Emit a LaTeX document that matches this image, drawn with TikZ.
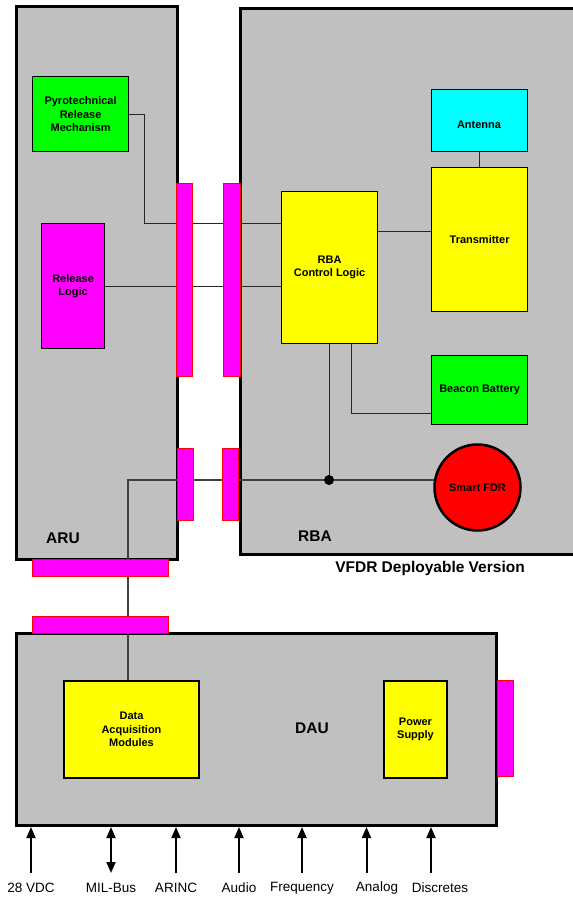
\documentclass[tikz,border=0pt]{standalone}
\usepackage{fontspec}
\setmainfont{Liberation Sans}
\usetikzlibrary{arrows.meta}
\definecolor{boxgray}{HTML}{C0C0C0}
\definecolor{pgreen}{HTML}{00FF00}
\definecolor{pcyan}{HTML}{00FFFF}
\definecolor{pyellow}{HTML}{FFFF00}
\definecolor{pmagenta}{HTML}{FF00FF}
\definecolor{pred}{HTML}{FF0000}
\begin{document}
\begin{tikzpicture}[x=1pt,y=-1pt,
  unit/.style={draw=black, line width=3pt, fill=boxgray, anchor=north west, inner sep=0pt},
  blk/.style={draw=black, line width=1.2pt, anchor=north west, inner sep=0pt, align=center,
    font=\bfseries\fontsize{11}{13.5}\selectfont},
  blktext/.style={inner sep=0pt, align=center, font=\bfseries\fontsize{11}{13.5}\selectfont},
  conn/.style={draw=pred, fill=pmagenta, line width=0.8pt, anchor=north west, inner sep=0pt},
  wire/.style={draw=black!85, line width=1pt},
  big/.style={font=\bfseries\fontsize{15.5}{18}\selectfont},
  sig/.style={font=\fontsize{13.5}{16}\selectfont},
  inarrow/.style={line width=2pt, -{Triangle[width=9pt,length=11pt]}},
  bothway/.style={line width=2pt, {Triangle[width=9pt,length=11pt]}-{Triangle[width=9pt,length=11pt]}},
]
\clip (0,0) rectangle (573,897);
\fill[white] (0,0) rectangle (573,897);

% units
\node[unit, minimum width=161pt, minimum height=553pt] (aru) at (15,5) {};
\node[unit, minimum width=345pt, minimum height=546pt] (rba) at (239,7) {};
\node[unit, minimum width=480pt, minimum height=192pt] (dau) at (15,632) {};

% inner blocks
\node[blk, fill=pgreen, minimum width=96pt, minimum height=75pt] (pyro) at (32,76) {Pyrotechnical\\Release\\Mechanism};
\node[blk, fill=pmagenta, minimum width=63pt, minimum height=125pt] (rl) at (41,223) {Release\\Logic};
\node[blk, fill=pyellow, minimum width=96pt, minimum height=152pt] (ctrl) at (281,191) {RBA\\Control Logic};
\node[blk, fill=pcyan, minimum width=96pt, minimum height=62pt] (ant) at (431,89) {};
\node[blktext] (antlbl) at (479,125) {Antenna};
\node[blk, fill=pyellow, minimum width=96pt, minimum height=144pt] (tx) at (431,167) {Transmitter};
\node[blk, fill=pgreen, minimum width=96pt, minimum height=69pt] (beacon) at (431,355) {Beacon Battery};
\node[blk, line width=2pt, fill=pyellow, minimum width=135pt, minimum height=97pt] (daq) at (63,680) {Data\\Acquisition\\Modules};
\node[blk, line width=2pt, fill=pyellow, minimum width=63pt, minimum height=97pt] (psu) at (383,680) {Power\\Supply};

% wires
\coordinate (j1) at (144,223);
\coordinate (j2) at (0,231);
\coordinate (j3) at (351,413);
\coordinate (dot) at (329,480);
\coordinate (j4) at (128,480);
\draw[wire] (pyro.east) -| (j1) -- (ctrl.west |- j1);
\draw[wire] (rl.east) -- (ctrl.west |- rl.east);
\draw[wire] (ctrl.east |- j2) -- (tx.west |- j2);
\draw[wire] (ant.south) -- (tx.north);
\draw[wire] (ctrl.south -| j3) -- (j3) -- (beacon.west |- j3);
\draw[wire] (ctrl.south -| dot) -- (dot);
\draw[wire, line width=1.3pt, draw=black!75] (daq.north -| j4) -- (j4) -- (dot) -- (477,480);
\fill (dot) circle (5pt);

% smart FDR
\node[circle, draw=black, line width=2.5pt, fill=pred, minimum size=86pt, inner sep=0pt,
  font=\bfseries\fontsize{11}{13.5}\selectfont] (fdr) at (477.5,487.5) {Smart FDR};

% connectors
\node[conn, minimum width=16pt, minimum height=193pt] (ca1) at (176,183) {};
\node[conn, minimum width=17pt, minimum height=193pt] (cr1) at (223,183) {};
\node[conn, minimum width=16pt, minimum height=72pt] (ca2) at (177,448) {};
\node[conn, minimum width=16pt, minimum height=72pt] (cr2) at (222,448) {};
\node[conn, minimum width=136pt, minimum height=17pt] (cab) at (32,559) {};
\node[conn, minimum width=136pt, minimum height=17pt] (cdt) at (32,616) {};
\node[conn, minimum width=16pt, minimum height=96pt] (cdr) at (497,680) {};

% labels
\node[big] (laru) at (63,538) {ARU};
\node[big] (lrba) at (315,536) {RBA};
\node[big] (lvfdr) at (430,568) {VFDR Deployable Version};
\node[big] (ldau) at (312,728) {DAU};

% signals
\coordinate (s1) at (31,873);
\coordinate (s2) at (111,873);
\coordinate (s3) at (176,873);
\coordinate (s4) at (239,873);
\coordinate (s5) at (302,873);
\coordinate (s6) at (366.5,873);
\coordinate (s7) at (431,873);
\draw[inarrow] (s1) -- (s1 |- dau.south);
\draw[bothway] (s2) -- (s2 |- dau.south);
\draw[inarrow] (s3) -- (s3 |- dau.south);
\draw[inarrow] (s4) -- (s4 |- dau.south);
\draw[inarrow] (s5) -- (s5 |- dau.south);
\draw[inarrow] (s6) -- (s6 |- dau.south);
\draw[inarrow] (s7) -- (s7 |- dau.south);
\node[sig] (t1) at (31,888) {28 VDC};
\node[sig] (t2) at (111,888) {MIL-Bus};
\node[sig] (t3) at (176,888) {ARINC};
\node[sig] (t4) at (239,888) {Audio};
\node[sig] (t5) at (302,888) {Frequency};
\node[sig] (t6) at (377,888) {Analog};
\node[sig] (t7) at (440,888) {Discretes};
\end{tikzpicture}
\end{document}
